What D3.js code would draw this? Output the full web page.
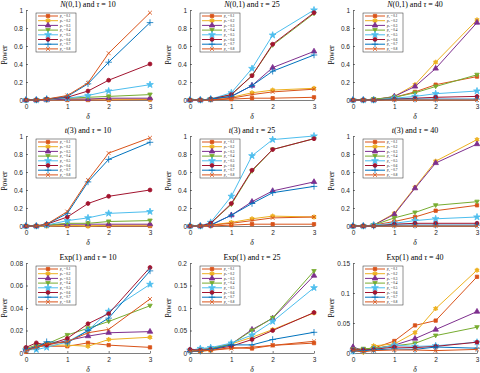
<!DOCTYPE html>
<html>
<head>
<meta charset="utf-8">
<script src="https://cdnjs.cloudflare.com/ajax/libs/d3/7.8.5/d3.min.js"></script>
<style>
  body { margin: 0; background: #fff; }
  svg { display: block; }
  .tick text { font-family: "Liberation Sans", Arial, sans-serif; font-size: 6.5px; fill: #262626; }
  .domain, .tick line { stroke: #262626; stroke-width: 0.6; }
  .ttl, .lab { font-family: "Liberation Serif", "DejaVu Serif", serif; fill: #000; }
</style>
</head>
<body>
<div class="chart"></div>
<script>
/* global d3 */
// shared x values (delta) and series names
const deltas = [0, 0.25, 0.5, 1, 1.5, 2, 3];
const p0 = ["0.1", "0.2", "0.3", "0.4", "0.5", "0.6", "0.7", "0.8"];

// power values, one row per p0 (0.1 .. 0.8)
const norm10 = [
  [0, 0, 0, 0, 0, 0, 0.005],
  [0, 0, 0, 0.01, 0.01, 0.01, 0.01],
  [0, 0, 0, 0.01, 0.01, 0.02, 0.02],
  [0, 0, 0.01, 0.02, 0.03, 0.04, 0.06],
  [0, 0, 0.01, 0.02, 0.05, 0.10, 0.17],
  [0, 0, 0.01, 0.03, 0.10, 0.22, 0.40],
  [0, 0, 0.01, 0.04, 0.18, 0.42, 0.86],
  [0, 0, 0.01, 0.05, 0.19, 0.52, 0.97]
];
const norm25 = [
  [0, 0, 0, 0.01, 0.02, 0.02, 0.03],
  [0, 0, 0.01, 0.03, 0.08, 0.11, 0.13],
  [0, 0, 0.01, 0.04, 0.16, 0.36, 0.54],
  [0, 0, 0.01, 0.06, 0.27, 0.61, 0.96],
  [0, 0, 0.01, 0.08, 0.35, 0.72, 1.0],
  [0, 0, 0.01, 0.06, 0.27, 0.62, 0.97],
  [0, 0, 0.01, 0.04, 0.16, 0.32, 0.50],
  [0, 0, 0, 0.02, 0.06, 0.09, 0.12]
];
const norm40 = [
  [0, 0, 0.01, 0.03, 0.09, 0.17, 0.26],
  [0, 0, 0, 0.04, 0.17, 0.42, 0.89],
  [0, 0, 0, 0.04, 0.15, 0.35, 0.86],
  [0, 0, 0.01, 0.03, 0.08, 0.15, 0.28],
  [0, 0, 0, 0.02, 0.04, 0.07, 0.10],
  [0, 0, 0, 0.01, 0.02, 0.03, 0.04],
  [0, 0, 0, 0.01, 0.01, 0.01, 0.01],
  [0, 0, 0, 0, 0, 0, 0]
];
const t10 = [
  [0, 0, 0, 0, 0, 0, 0],
  [0, 0, 0, 0.01, 0, 0.01, 0.01],
  [0, 0, 0.01, 0.02, 0.02, 0.02, 0.02],
  [0, 0, 0.01, 0.03, 0.03, 0.05, 0.06],
  [0, 0, 0.01, 0.06, 0.09, 0.14, 0.16],
  [0, 0, 0.02, 0.10, 0.25, 0.33, 0.40],
  [0, 0, 0.02, 0.14, 0.49, 0.74, 0.93],
  [0, 0, 0.02, 0.16, 0.51, 0.81, 0.98]
];
const t25 = [
  [0, 0, 0, 0.01, 0.02, 0.02, 0.02],
  [0, 0, 0.01, 0.04, 0.08, 0.11, 0.10],
  [0, 0, 0.01, 0.12, 0.27, 0.39, 0.49],
  [0, 0, 0.03, 0.24, 0.61, 0.85, 0.97],
  [0, 0, 0.04, 0.33, 0.78, 0.96, 1.0],
  [0, 0, 0.03, 0.25, 0.62, 0.85, 0.97],
  [0, 0, 0.01, 0.12, 0.25, 0.37, 0.44],
  [0, 0, 0.01, 0.03, 0.06, 0.09, 0.10]
];
const t40 = [
  [0, 0, 0.01, 0.05, 0.10, 0.17, 0.23],
  [0, 0, 0.01, 0.14, 0.43, 0.72, 0.96],
  [0, 0, 0.01, 0.13, 0.42, 0.70, 0.91],
  [0, 0, 0.01, 0.09, 0.15, 0.23, 0.27],
  [0, 0, 0.01, 0.03, 0.06, 0.08, 0.10],
  [0, 0, 0, 0.02, 0.03, 0.03, 0.03],
  [0, 0, 0, 0.01, 0.01, 0.01, 0.01],
  [0, 0, 0, 0, 0, 0, 0]
];
const exp10 = [
  [0.001, 0.006, 0.006, 0.006, 0.009, 0.007, 0.005],
  [0.003, 0.006, 0.007, 0.007, 0.006, 0.012, 0.014],
  [0.003, 0.006, 0.007, 0.011, 0.015, 0.018, 0.019],
  [0.004, 0.007, 0.008, 0.016, 0.022, 0.028, 0.042],
  [0.003, 0.003, 0.005, 0.010, 0.020, 0.037, 0.061],
  [0.005, 0.009, 0.007, 0.013, 0.026, 0.035, 0.076],
  [0.003, 0.005, 0.010, 0.009, 0.020, 0.031, 0.073],
  [0.002, 0.005, 0.008, 0.010, 0.018, 0.021, 0.048]
];
const exp25 = [
  [0.005, 0.004, 0.006, 0.012, 0.010, 0.017, 0.022],
  [0.005, 0.004, 0.006, 0.020, 0.035, 0.052, 0.089],
  [0.006, 0.008, 0.010, 0.020, 0.052, 0.077, 0.172],
  [0.005, 0.008, 0.010, 0.020, 0.050, 0.078, 0.182],
  [0.006, 0.010, 0.012, 0.022, 0.040, 0.070, 0.145],
  [0.008, 0.006, 0.008, 0.015, 0.030, 0.050, 0.090],
  [0.003, 0.004, 0.008, 0.018, 0.018, 0.030, 0.046],
  [0.004, 0.005, 0.006, 0.010, 0.013, 0.017, 0.026]
];
const exp40 = [
  [0.006, 0.006, 0.008, 0.020, 0.046, 0.054, 0.127],
  [0.005, 0.001, 0.012, 0.015, 0.034, 0.074, 0.138],
  [0.010, 0.004, 0.007, 0.013, 0.024, 0.039, 0.069],
  [0.006, 0.007, 0.008, 0.012, 0.016, 0.029, 0.043],
  [0.003, 0.004, 0.006, 0.013, 0.011, 0.012, 0.018],
  [0.005, 0.005, 0.006, 0.010, 0.009, 0.011, 0.018],
  [0.003, 0.004, 0.005, 0.007, 0.006, 0.010, 0.008],
  [0.004, 0.002, 0.004, 0.005, 0.005, 0.004, 0.006]
];

// title pieces: [italic part, upright part]
const dists = [["N", "(0,1)"], ["t", "(3)"], ["", "Exp(1)"]];
const taus = ["10", "25", "40"];
const yMax = [[1, 1, 1], [1, 1, 1], [0.08, 0.2, 0.15]];
const yStep = [[0.2, 0.2, 0.2], [0.2, 0.2, 0.2], [0.02, 0.05, 0.05]];
const grid = [[norm10, norm25, norm40], [t10, t25, t40], [exp10, exp25, exp40]];

const colors = ["#D95319", "#EDB120", "#7E2F8E", "#77AC30", "#4DBEEE", "#A2142F", "#0072BD", "#D95319"];

// custom hexagram marker
const hexagram = {
  draw(ctx, size) {
    const r = Math.sqrt(size) * 0.62;
    for (let i = 0; i < 12; i++) {
      const a = Math.PI / 6 * i - Math.PI / 2;
      const rr = i % 2 ? r * 0.6 : r;
      if (i === 0) ctx.moveTo(rr * Math.cos(a), rr * Math.sin(a));
      else ctx.lineTo(rr * Math.cos(a), rr * Math.sin(a));
    }
    ctx.closePath();
  }
};
const triDown = {
  draw(ctx, size) {
    const r = Math.sqrt(size) * 0.6;
    ctx.moveTo(-r, -r * 0.7);
    ctx.lineTo(r, -r * 0.7);
    ctx.lineTo(0, r);
    ctx.closePath();
  }
};
const shapes = [d3.symbolSquare, hexagram, d3.symbolTriangle, triDown, d3.symbolStar, d3.symbolCircle, d3.symbolPlus, d3.symbolX];
const sizes = [11, 15, 13, 14, 14, 12, 16, 12];
const filled = [true, true, true, true, true, true, false, false];

const W = 480, H = 373;
const colX = [26, 190, 353];
const rowTop = [10, 136, 263];
const pw = 124, ph = 90;

const svg = d3.select(".chart").append("svg")
    .attr("width", W)
    .attr("height", H);

const fmt = d => d === 0 ? "0" : String(+d.toFixed(3));

function drawPanel(r, c) {
  const x0 = colX[c], y0 = rowTop[r];
  const series = grid[r][c];
  const x = d3.scaleLinear().domain([0, 3]).range([0, pw]);
  const y = d3.scaleLinear().domain([0, yMax[r][c]]).range([ph, 0]);

  const g = svg.append("g").attr("transform", "translate(" + x0 + "," + y0 + ")");

  const yt = d3.range(0, yMax[r][c] + 1e-9, yStep[r][c]);
  g.append("g")
    .attr("transform", "translate(0," + ph + ")")
    .call(d3.axisBottom(x).tickValues([0, 1, 2, 3]).tickFormat(fmt).tickSizeInner(-2).tickSizeOuter(0).tickPadding(4));
  g.append("g")
    .call(d3.axisLeft(y).tickValues(yt).tickFormat(fmt).tickSizeInner(-2).tickSizeOuter(0).tickPadding(3));

  const line = d3.line()
      .x((d, i) => x(deltas[i]))
      .y(d => y(d));

  series.forEach(function(vals, k) {
    g.append("path")
      .attr("d", line(vals))
      .attr("fill", "none")
      .attr("stroke", colors[k])
      .attr("stroke-width", 1);
    g.selectAll(null)
      .data(vals)
      .enter().append("path")
        .attr("transform", (d, i) => "translate(" + x(deltas[i]) + "," + y(d) + ")")
        .attr("d", d3.symbol().type(shapes[k]).size(sizes[k]))
        .attr("fill", filled[k] ? colors[k] : "none")
        .attr("stroke", colors[k])
        .attr("stroke-width", 0.8);
  });

  // title
  const t = g.append("text").attr("class", "ttl")
      .attr("x", pw / 2).attr("y", -3)
      .attr("text-anchor", "middle")
      .style("font-size", "8px");
  const dn = dists[r];
  if (dn[0]) t.append("tspan").style("font-style", "italic").text(dn[0]);
  t.append("tspan").text(dn[1] + " and ");
  t.append("tspan").style("font-style", "italic").text("τ");
  t.append("tspan").text(" = " + taus[c]);

  g.append("text").attr("class", "lab")
      .attr("transform", "translate(" + (-19) + "," + (ph / 2) + ") rotate(-90)")
      .attr("text-anchor", "middle")
      .style("font-size", "7.5px")
      .text("Power");
  g.append("text").attr("class", "lab")
      .attr("x", pw / 2).attr("y", ph + 19)
      .attr("text-anchor", "middle")
      .style("font-size", "7.5px")
      .style("font-style", "italic")
      .text("δ");

  // legend
  const lg = g.append("g").attr("transform", "translate(10,3)");
  lg.append("rect")
    .attr("width", 40).attr("height", 39)
    .attr("fill", "#fff")
    .attr("stroke", "#262626")
    .attr("stroke-width", 0.5);
  p0.forEach(function(p, k) {
    const ly = 3 + k * 4.7;
    lg.append("line")
      .attr("x1", 2).attr("x2", 22).attr("y1", ly).attr("y2", ly)
      .attr("stroke", colors[k]).attr("stroke-width", 1);
    lg.append("path")
      .attr("transform", "translate(12," + ly + ")")
      .attr("d", d3.symbol().type(shapes[k]).size(sizes[k]))
      .attr("fill", filled[k] ? colors[k] : "none")
      .attr("stroke", colors[k])
      .attr("stroke-width", 0.8);
    const lt = lg.append("text").attr("class", "lab")
      .attr("x", 24).attr("y", ly + 1.1)
      .style("font-size", "3.3px");
    lt.append("tspan").style("font-style", "italic").text("p");
    lt.append("tspan").attr("dy", 0.6).style("font-size", "2.4px").text("0");
    lt.append("tspan").attr("dy", -0.6).text(" = " + p);
  });
}

for (let r = 0; r < 3; r++) {
  for (let c = 0; c < 3; c++) {
    drawPanel(r, c);
  }
}
</script>
</body>
</html>
